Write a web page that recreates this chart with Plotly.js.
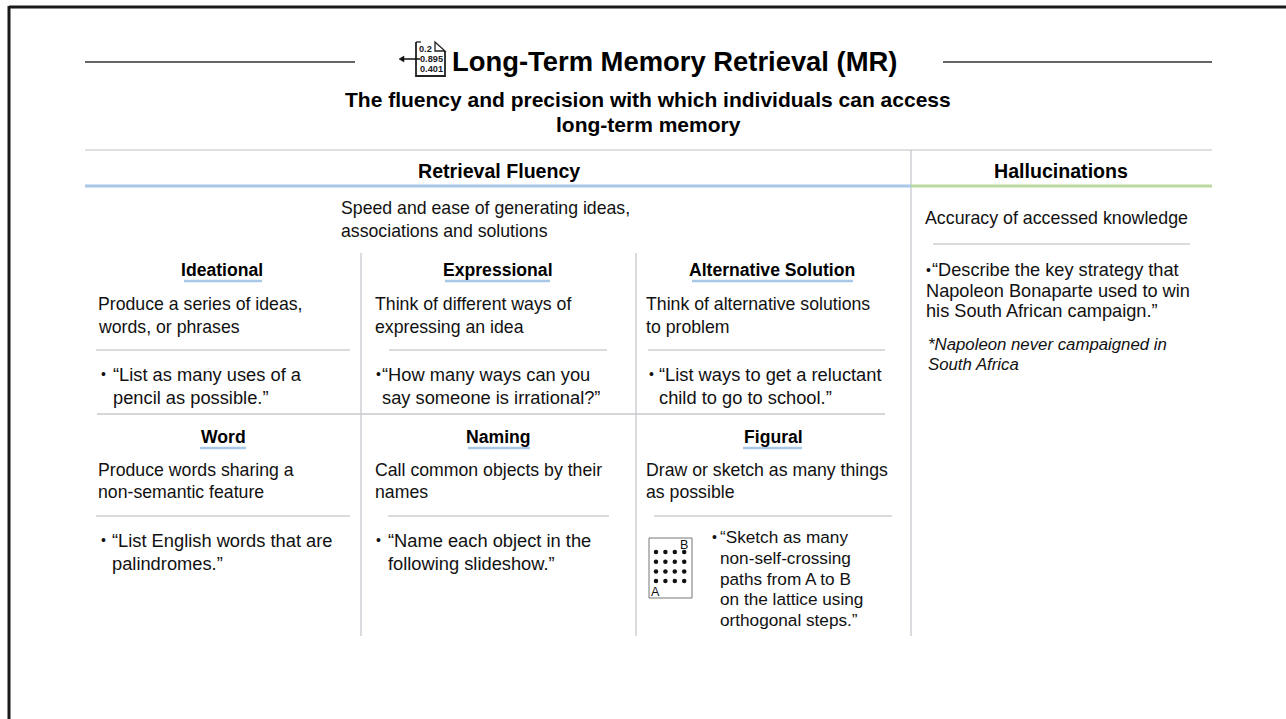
<!DOCTYPE html>
<html><head><meta charset="utf-8">
<script src="https://cdn.plot.ly/plotly-3.0.1.min.js"></script>
<style>html,body{margin:0;padding:0;background:#fff;overflow:hidden}#c{width:1286px;height:719px}</style>
</head><body><div id="c"></div>
<script>
const FONT = '"Liberation Sans", Arial, sans-serif';
// Text content
const titleText = 'Long-Term Memory Retrieval (MR)';
const subtitleLines = ['The fluency and precision with which individuals can access', 'long-term memory'];
const sectionHeads = ['Retrieval Fluency', 'Hallucinations'];
const sectionDesc = ['Speed and ease of generating ideas,', 'associations and solutions'];
const hallucinationDesc = 'Accuracy of accessed knowledge';
const hallucinationBody = ['“Describe the key strategy that', 'Napoleon Bonaparte used to win', 'his South African campaign.”'];
const hallucinationNote = ['*Napoleon never campaigned in', 'South Africa'];
const cellHeads = ['Ideational', 'Expressional', 'Alternative Solution', 'Word', 'Naming', 'Figural'];
const cellDescs = [
  ['Produce a series of ideas,', 'words, or phrases'],
  ['Think of different ways of', 'expressing an idea'],
  ['Think of alternative solutions', 'to problem'],
  ['Produce words sharing a', 'non-semantic feature'],
  ['Call common objects by their', 'names'],
  ['Draw or sketch as many things', 'as possible']
];
const cellExamples = [
  ['“List as many uses of a', 'pencil as possible.”'],
  ['“How many ways can you', 'say someone is irrational?”'],
  ['“List ways to get a reluctant', 'child to go to school.”'],
  ['“List English words that are', 'palindromes.”'],
  ['“Name each object in the', 'following slideshow.”'],
  ['“Sketch as many', 'non-self-crossing', 'paths from A to B', 'on the lattice using', 'orthogonal steps.”']
];
const iconValues = ['0.2', '0.895', '0.401'];
const latticeCols = [0, 1, 2, 3];
const latticeRows = [0, 1, 2, 3];

// Layout geometry
const cellCenters = [222, 498, 772, 223, 498, 773];
const cellTextX = [98, 375, 646, 98, 375, 646];
const bulletX = [101, 376, 649, 101, 376, 712];
const exampleX = [113, 382, 659, 112, 388, 720];
const cellHeadY = [270, 270, 270, 437, 437, 437];
const cellDescY = [[304, 327], [304, 327], [304, 327], [470, 492], [470, 492], [470, 492]];
const cellExY = [[374, 397], [374, 397], [374, 397], [540, 563], [540, 563], [537, 558, 579, 599, 620]];
const underlines = [[184, 262, 281], [445, 550, 281], [692, 853, 281], [200, 246, 448], [468, 530, 448], [743, 802, 448]];
const dividers = [[96, 350, 350], [389, 607, 350], [648, 885, 350], [96, 350, 516], [388, 609, 516], [654, 892, 516], [933, 1190, 244]];

const notes = [];
function T(text, x, y, size, o) {
  o = o || {};
  notes.push({text: text, x: x, y: y, xref: 'x', yref: 'y', showarrow: false, borderpad: 0, borderwidth: 0,
    xanchor: o.anchor || 'left', yanchor: 'middle', align: o.anchor || 'left',
    font: {family: FONT, size: size, color: o.color || '#111'}});
}
const shapes = [];
function L(x0, y0, x1, y1, color, width) {
  shapes.push({type: 'line', xref: 'x', yref: 'y', x0, y0, x1, y1, line: {color, width}});
}
// Frame
L(9, 7, 1286, 7, '#1a1a1a', 3);
L(9, 6, 9, 719, '#1a1a1a', 3);
// Title rules
L(85, 62, 355, 62, '#333', 1.3);
L(943, 62, 1212, 62, '#333', 1.3);
// Table rules
L(85, 150, 1212, 150, '#d4d4d4', 1.3);
L(911, 150, 911, 636, '#c6c8cc', 1.3);
L(361, 253, 361, 636, '#c6c8cc', 1.3);
L(636, 253, 636, 636, '#c6c8cc', 1.3);
L(97, 414, 885, 414, '#c6c8cc', 1.3);
L(85, 186, 911, 186, '#a9c8e8', 3);
L(911, 186, 1212, 186, '#bcd8a0', 3);
dividers.forEach(d => L(d[0], d[2], d[1], d[2], '#cfcfcf', 1.3));
underlines.forEach(u => L(u[0], u[2], u[1], u[2], '#a9c8e8', 2.5));

// Title and subtitle
T('<b>' + titleText + '</b>', 452, 61, 27.4, {color: '#000'});
subtitleLines.forEach((s, i) => T('<b>' + s + '</b>', 648, 99 + i * 25, 21, {anchor: 'center', color: '#000'}));
T('<b>' + sectionHeads[0] + '</b>', 499, 171, 19.6, {anchor: 'center', color: '#000'});
T('<b>' + sectionHeads[1] + '</b>', 1061, 171, 19.6, {anchor: 'center', color: '#000'});
T(sectionDesc[0], 341, 208, 17.7);
T(sectionDesc[1], 341, 231, 17.7);
T(hallucinationDesc, 925, 218, 17.8);
T('•', 926, 270, 14);
hallucinationBody.forEach((s, i) => T(s, i ? 926 : 932, 270 + i * 20.5, 18.2));
hallucinationNote.forEach((s, i) => T('<i>' + s + '</i>', 928, 344 + i * 20, 16.8));

// Cells
const bodySize = [18.3, 18.3, 18.3, 18.3, 18.3, 17.2];
cellHeads.forEach((h, i) => {
  T('<b>' + h + '</b>', cellCenters[i], cellHeadY[i], 17.6, {anchor: 'center', color: '#000'});
  cellDescs[i].forEach((s, j) => T(s, cellTextX[i], cellDescY[i][j], 17.7));
  T('•', bulletX[i], cellExY[i][0], 14);
  cellExamples[i].forEach((s, j) => T(s, exampleX[i], cellExY[i][j], bodySize[i]));
});

// Lattice figure box and labels
shapes.push({type: 'rect', xref: 'x', yref: 'y', x0: 649, y0: 538, x1: 692, y1: 598, line: {color: '#777', width: 1}, fillcolor: 'rgba(0,0,0,0)'});
T('B', 680, 545, 12.5);
T('A', 651, 592, 12.5);

// Icon: file with numbers and arrow
shapes.push({type: 'path', xref: 'x', yref: 'y', path: 'M416 42 L416 76 L445 76 L445 51', line: {color: '#222', width: 1.8}});
L(416, 42, 421, 42, '#222', 1.3);
shapes.push({type: 'path', xref: 'x', yref: 'y', path: 'M435 42 L445 51 L435 51 Z', line: {color: '#222', width: 1.3}, fillcolor: 'rgba(0,0,0,0)'});
L(402, 59, 420, 59, '#111', 1.5);
shapes.push({type: 'path', xref: 'x', yref: 'y', path: 'M399 59 L404 56 L404 62 Z', line: {color: '#111', width: 0.5}, fillcolor: '#111'});
const iconLeft = [419, 420, 420], iconY = [49, 59, 69];
iconValues.forEach((v, i) => T('<b>' + v + '</b>', iconLeft[i], iconY[i], 9.2, {color: '#222'}));

// Lattice points via scatter
const lx = [], ly = [];
latticeRows.forEach(r => latticeCols.forEach(c => { lx.push(656 + c * 9.4); ly.push(552 + r * 9.7); }));
const traces = [{type: 'scatter', mode: 'markers', x: lx, y: ly, hoverinfo: 'skip', marker: {color: '#111', size: 4.5}}];

Plotly.newPlot('c', traces, {
  width: 1286, height: 719, margin: {l: 0, r: 0, t: 0, b: 0}, showlegend: false,
  paper_bgcolor: '#fff', plot_bgcolor: '#fff',
  xaxis: {range: [0, 1286], visible: false, fixedrange: true},
  yaxis: {range: [719, 0], visible: false, fixedrange: true},
  shapes: shapes, annotations: notes
}, {displayModeBar: false, staticPlot: true});
</script></body></html>
